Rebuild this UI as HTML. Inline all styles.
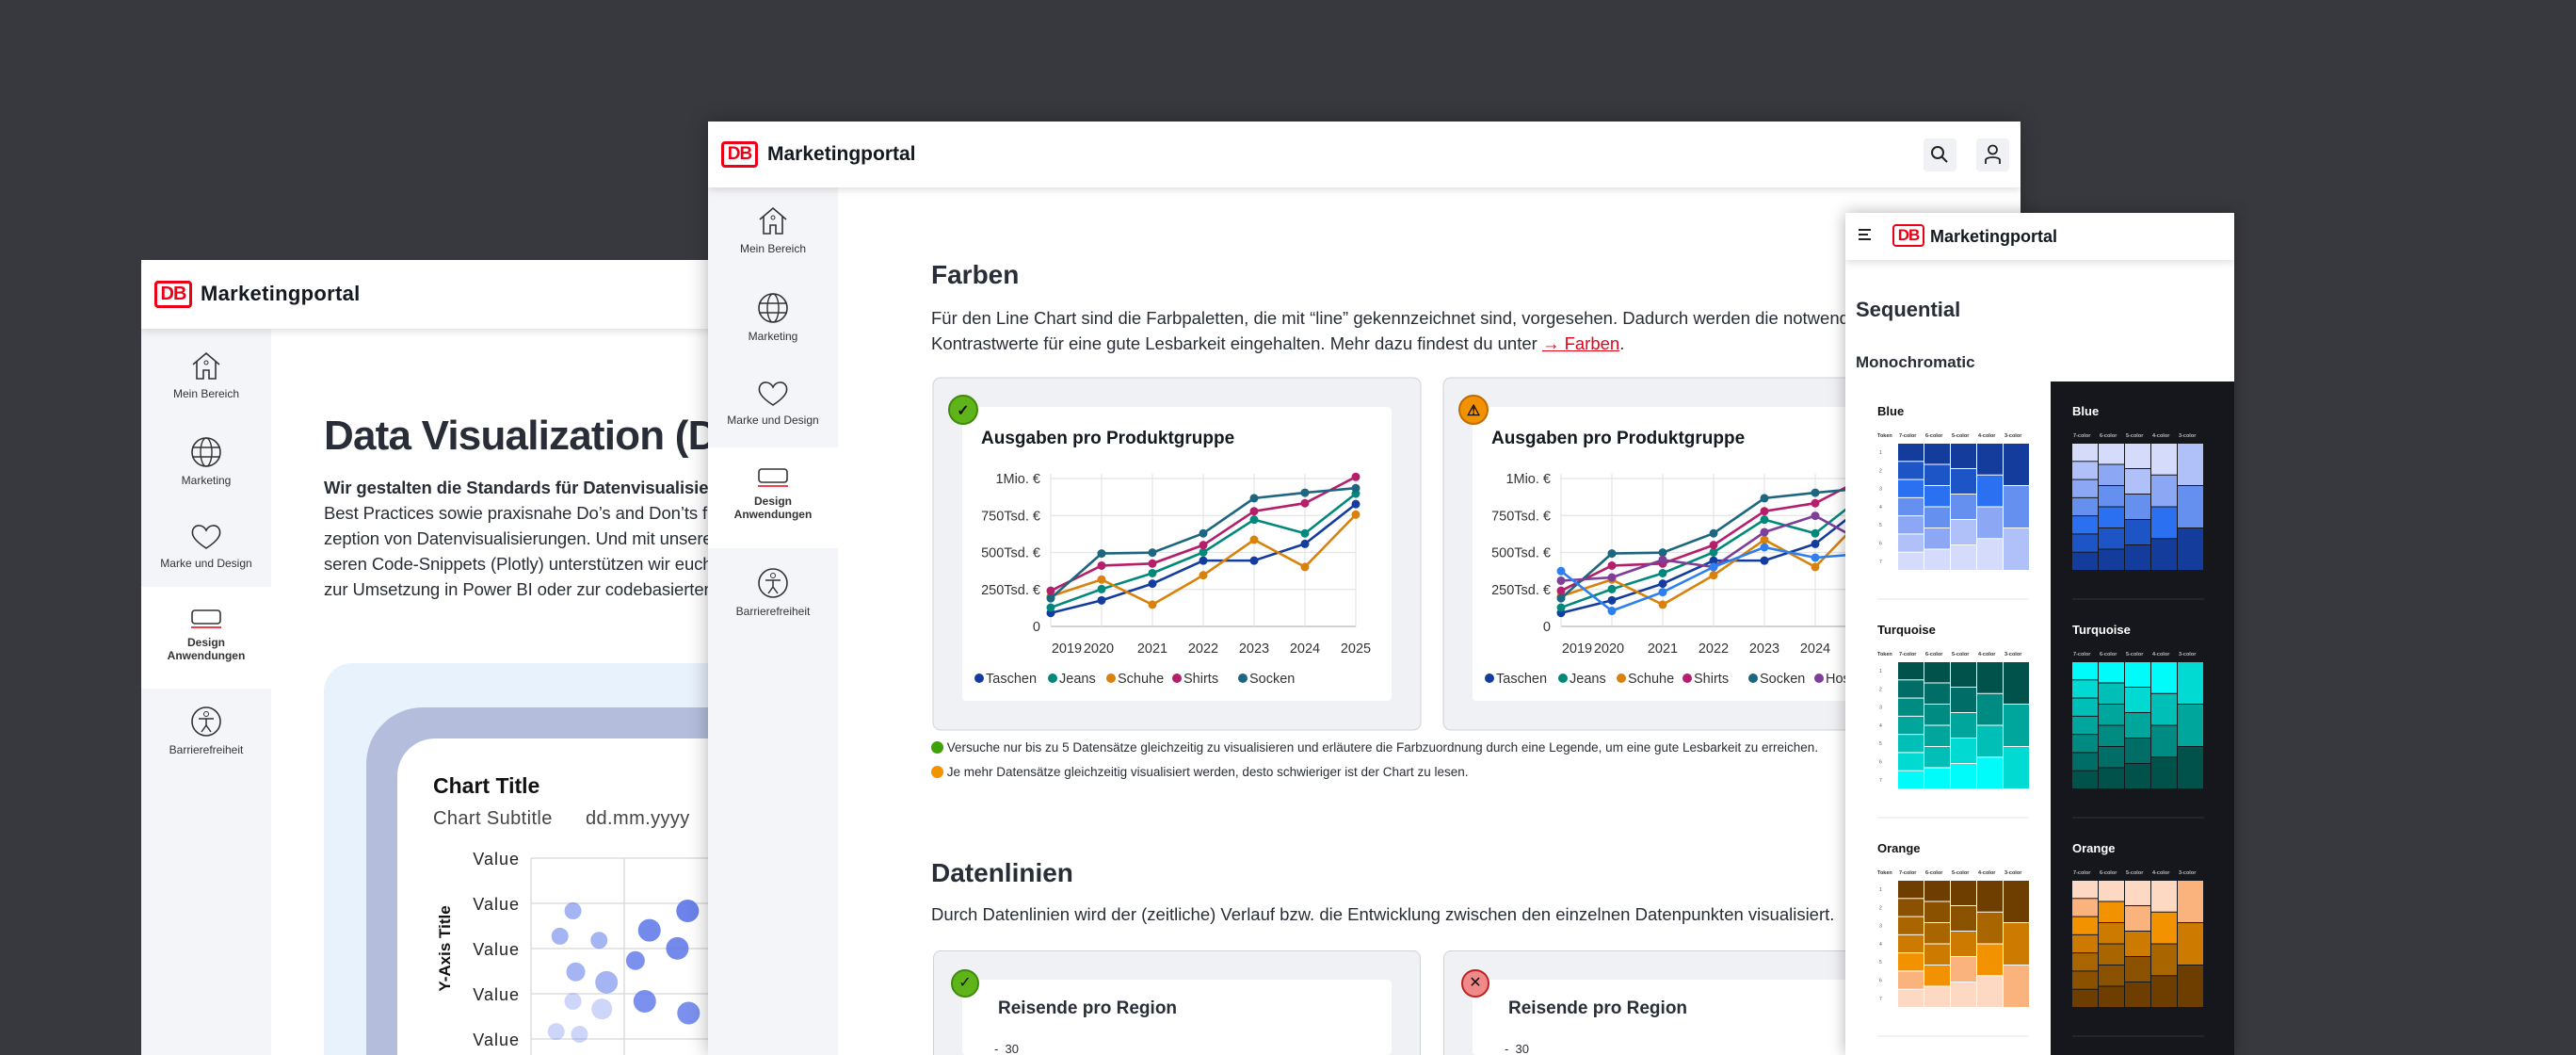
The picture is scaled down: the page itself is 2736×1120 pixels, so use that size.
<!DOCTYPE html>
<html><head><meta charset="utf-8">
<style>
*{box-sizing:border-box;margin:0;padding:0}
body{width:2736px;height:1120px;overflow:hidden;background:#38393e;font-family:"Liberation Sans",sans-serif;color:#282d37;position:relative}
.abs{position:absolute}
.win{position:absolute;background:#fff;overflow:hidden}
.hdr{position:absolute;left:0;right:0;top:0;background:#fff;box-shadow:0 3px 8px rgba(0,0,0,.12);z-index:2}
.logo{position:absolute;border:3px solid #ec0016;border-radius:4px;color:#ec0016;font-weight:bold;text-align:center;letter-spacing:-1px}
.brand{position:absolute;font-weight:bold;color:#131821}
.side{position:absolute;background:#f4f5f8}
.nav{position:absolute;left:0;width:138px;text-align:center;font-size:12px;color:#333}
.nav svg{display:block;margin:0 auto 6px}
.card{position:absolute;background:#f0f1f4;border:1px solid #cfd2d8;border-radius:8px}
.inner{position:absolute;background:#fff;border-radius:4px;overflow:hidden}
</style></head><body>

<!-- LEFT WINDOW -->
<div class="win" style="left:150px;top:276px;width:700px;height:844px;z-index:1">
  <div class="hdr" style="height:73px">
    <div class="logo" style="left:14px;top:22px;width:40px;height:29px;font-size:20px;line-height:23px">DB</div>
    <div class="brand" style="left:63px;top:23px;font-size:22px;letter-spacing:.3px">Marketingportal</div>
  </div>
  <div class="side" style="left:0;top:73px;width:138px;height:771px">
    <div class="nav" style="top:22px"><svg width="36" height="34" viewBox="0 0 36 34"><path d="M4 16 L18 4 L32 16 M8 13 V31 H15 V22 H21 V31 H28 V13" fill="none" stroke="#333" stroke-width="1.6"/><circle cx="18" cy="14" r="2" fill="none" stroke="#333"/></svg>Mein Bereich</div>
    <div class="nav" style="top:114px"><svg width="36" height="34" viewBox="0 0 36 34"><circle cx="18" cy="17" r="15" fill="none" stroke="#333" stroke-width="1.6"/><ellipse cx="18" cy="17" rx="6" ry="15" fill="none" stroke="#333" stroke-width="1.4"/><path d="M3 12H33M3 22H33" stroke="#333" stroke-width="1.4"/></svg>Marketing</div>
    <div class="nav" style="top:206px"><svg width="36" height="30" viewBox="0 0 36 30"><path d="M18 27 C4 18 2 12 4 7 C7 1 15 2 18 8 C21 2 29 1 32 7 C34 12 32 18 18 27Z" fill="none" stroke="#333" stroke-width="1.6"/></svg>Marke und Design</div>
    <div class="nav" style="top:274px;height:108px;background:#fff;padding-top:22px;font-weight:bold"><svg width="36" height="24" viewBox="0 0 36 24"><rect x="3" y="3" width="30" height="14" rx="3" fill="none" stroke="#333" stroke-width="1.6"/><path d="M2 21H34" stroke="#ec0016" stroke-width="1.6"/></svg>Design<br>Anwendungen</div>
    <div class="nav" style="top:400px"><svg width="36" height="34" viewBox="0 0 36 34"><circle cx="18" cy="17" r="15" fill="none" stroke="#333" stroke-width="1.6"/><circle cx="18" cy="9" r="2.5" fill="none" stroke="#333"/><path d="M10 14H26M18 14V21L13 28M18 21L23 28" fill="none" stroke="#333" stroke-width="1.5"/></svg>Barrierefreiheit</div>
  </div>
  <div class="abs" style="left:194px;top:162px;font-size:44px;font-weight:bold;white-space:nowrap;letter-spacing:-0.8px">Data Visualization (DV)</div>
  <div class="abs" style="left:194px;top:228px;font-size:18.5px;line-height:27px;white-space:nowrap;letter-spacing:-0.1px">
    <b>Wir gestalten die Standards für Datenvisualisierungen</b><br>Best Practices sowie praxisnahe Do’s and Don’ts für die Kon-<br>zeption von Datenvisualisierungen. Und mit unseren Templates und un-<br>seren Code-Snippets (Plotly) unterstützen wir euch<br>zur Umsetzung in Power BI oder zur codebasierten Umsetzung.</div>
  <div class="abs" style="left:194px;top:428px;width:520px;height:416px;background:#e8f2fd;border-radius:30px 0 0 0"></div>
  <div class="abs" style="left:239px;top:475px;width:470px;height:369px;background:#b4bedc;border-radius:60px 0 0 0"></div>
  <div class="abs" style="left:272px;top:508px;width:430px;height:336px;background:#fff;border-radius:40px 0 0 0">
    <svg id="scatter" width="430" height="336" style="position:absolute;left:0;top:0"></svg>
  </div>
</div>

<!-- MIDDLE WINDOW -->
<div class="win" style="left:752px;top:129px;width:1394px;height:991px;z-index:2;box-shadow:0 0 20px rgba(0,0,0,.3)">
  <div class="hdr" style="height:70px">
    <div class="logo" style="left:14px;top:21px;width:39px;height:28px;font-size:19px;line-height:22px">DB</div>
    <div class="brand" style="left:63px;top:23px;font-size:21px">Marketingportal</div>
    <div class="abs" style="left:1291px;top:18px;width:35px;height:35px;background:#f0f1f4;border-radius:4px"><svg width="35" height="35"><circle cx="15" cy="15" r="6" fill="none" stroke="#222" stroke-width="2"/><path d="M19.5 19.5L25 25" stroke="#222" stroke-width="2"/></svg></div>
    <div class="abs" style="left:1347px;top:18px;width:35px;height:35px;background:#f0f1f4;border-radius:4px"><svg width="35" height="35"><circle cx="17.5" cy="12" r="4.5" fill="none" stroke="#222" stroke-width="1.8"/><path d="M10 27V23C10 19 25 19 25 23V27" fill="none" stroke="#222" stroke-width="1.8"/></svg></div>
  </div>
  <div class="side" style="left:0;top:70px;width:138px;height:921px">
    <div class="nav" style="top:18px"><svg width="36" height="34" viewBox="0 0 36 34"><path d="M4 16 L18 4 L32 16 M8 13 V31 H15 V22 H21 V31 H28 V13" fill="none" stroke="#333" stroke-width="1.6"/><circle cx="18" cy="14" r="2" fill="none" stroke="#333"/></svg>Mein Bereich</div>
    <div class="nav" style="top:111px"><svg width="36" height="34" viewBox="0 0 36 34"><circle cx="18" cy="17" r="15" fill="none" stroke="#333" stroke-width="1.6"/><ellipse cx="18" cy="17" rx="6" ry="15" fill="none" stroke="#333" stroke-width="1.4"/><path d="M3 12H33M3 22H33" stroke="#333" stroke-width="1.4"/></svg>Marketing</div>
    <div class="nav" style="top:204px"><svg width="36" height="30" viewBox="0 0 36 30"><path d="M18 27 C4 18 2 12 4 7 C7 1 15 2 18 8 C21 2 29 1 32 7 C34 12 32 18 18 27Z" fill="none" stroke="#333" stroke-width="1.6"/></svg>Marke und Design</div>
    <div class="nav" style="top:276px;height:107px;background:#fff;padding-top:20px;font-weight:bold"><svg width="36" height="24" viewBox="0 0 36 24"><rect x="3" y="3" width="30" height="14" rx="3" fill="none" stroke="#333" stroke-width="1.6"/><path d="M2 21H34" stroke="#ec0016" stroke-width="1.6"/></svg>Design<br>Anwendungen</div>
    <div class="nav" style="top:403px"><svg width="36" height="34" viewBox="0 0 36 34"><circle cx="18" cy="17" r="15" fill="none" stroke="#333" stroke-width="1.6"/><circle cx="18" cy="9" r="2.5" fill="none" stroke="#333"/><path d="M10 14H26M18 14V21L13 28M18 21L23 28" fill="none" stroke="#333" stroke-width="1.5"/></svg>Barrierefreiheit</div>
  </div>
  <div class="abs" style="left:237px;top:147px;font-size:28px;font-weight:bold">Farben</div>
  <div class="abs" style="left:237px;top:195px;font-size:18.5px;line-height:27px;white-space:nowrap">Für den Line Chart sind die Farbpaletten, die mit “line” gekennzeichnet sind, vorgesehen. Dadurch werden die notwendigen<br>Kontrastwerte für eine gute Lesbarkeit eingehalten. Mehr dazu findest du unter <span style="color:#ec0016;text-decoration:underline">→ Farben</span>.</div>
  <div class="abs" style="left:237px;top:657px;font-size:13.5px;white-space:nowrap"><span style="display:inline-block;width:13px;height:13px;border-radius:50%;background:#3ca10a;vertical-align:-2px"></span> Versuche nur bis zu 5 Datensätze gleichzeitig zu visualisieren und erläutere die Farbzuordnung durch eine Legende, um eine gute Lesbarkeit zu erreichen.</div>
  <div class="abs" style="left:237px;top:683px;font-size:13.5px;white-space:nowrap"><span style="display:inline-block;width:13px;height:13px;border-radius:50%;background:#f39200;vertical-align:-2px"></span> Je mehr Datensätze gleichzeitig visualisiert werden, desto schwieriger ist der Chart zu lesen.</div>
  <div class="abs" style="left:237px;top:782px;font-size:28px;font-weight:bold">Datenlinien</div>
  <div class="abs" style="left:237px;top:831px;font-size:18.5px;white-space:nowrap">Durch Datenlinien wird der (zeitliche) Verlauf bzw. die Entwicklung zwischen den einzelnen Datenpunkten visualisiert.</div>
  <div class="card" style="left:239px;top:880px;width:518px;height:111px;border-bottom:none;border-radius:8px 8px 0 0"></div>
  <div class="inner" style="left:270px;top:911px;width:456px;height:80px"><div class="abs" style="left:38px;top:20px;font-size:19px;font-weight:bold">Reisende pro Region</div><div class="abs" style="left:34px;top:66px;font-size:13px">-&nbsp;&nbsp;30</div></div>
  <div class="card" style="left:781px;top:880px;width:518px;height:111px;border-bottom:none;border-radius:8px 8px 0 0"></div>
  <div class="inner" style="left:812px;top:911px;width:456px;height:80px"><div class="abs" style="left:38px;top:20px;font-size:19px;font-weight:bold">Reisende pro Region</div><div class="abs" style="left:34px;top:66px;font-size:13px">-&nbsp;&nbsp;30</div></div>
  <div class="abs" style="left:258px;top:900px;width:30px;height:30px;border-radius:50%;background:#5fb41a;border:2px solid #3f8a0a;color:#111;text-align:center;font-size:16px;line-height:26px">✓</div>
  <div class="abs" style="left:800px;top:900px;width:30px;height:30px;border-radius:50%;background:#f08a8a;border:2px solid #c02020;color:#111;text-align:center;font-size:16px;line-height:26px">✕</div>
</div>

<svg id="lines" width="2736" height="1120" style="position:absolute;left:0;top:0;z-index:2;pointer-events:none"></svg>

<!-- RIGHT WINDOW -->
<div class="win" style="left:1960px;top:226px;width:413px;height:894px;z-index:3;box-shadow:0 0 16px rgba(0,0,0,.3)">
  <div class="hdr" style="height:50px">
    <div class="abs" style="left:14px;top:17px;width:13px;height:12px;border-top:2px solid #222;border-bottom:2px solid #222"><div style="margin-top:3px;border-top:2px solid #222;width:10px"></div></div>
    <div class="logo" style="left:50px;top:12px;width:34px;height:24px;font-size:17px;line-height:19px;border-width:2.5px">DB</div>
    <div class="brand" style="left:90px;top:15px;font-size:18px">Marketingportal</div>
  </div>
  <div class="abs" style="left:11px;top:90px;font-size:22px;font-weight:bold">Sequential</div>
  <div class="abs" style="left:11px;top:149px;font-size:17px;font-weight:bold">Monochromatic</div>
  <div class="abs" style="left:218px;top:179px;width:195px;height:715px;background:#16171c"></div>
  <svg id="swatches" width="413" height="894" style="position:absolute;left:0;top:0"></svg>
</div>

<script>
// ===== Line chart data =====
const years = ["2019","2020","2021","2022","2023","2024","2025"];
const yTicks = [0, 250, 500, 750, 1000];
const yTickLabels = ["0","250Tsd. €","500Tsd. €","750Tsd. €","1Mio. €"];
const seriesNames = ["Taschen","Jeans","Schuhe","Shirts","Socken"];
const taschen = [91,176,289,445,445,558,827];
const jeans   = [127,252,360,501,722,629,898];
const schuhe  = [204,317,147,346,586,402,756];
const shirts  = [241,411,425,550,779,833,1011];
const socken  = [190,493,499,629,867,904,935];
const extraNames = ["Hosen","Jacken"];
const hosen   = [309,331,450,402,637,748,560];
const jacken  = [374,105,232,402,535,465,493];
const colors = ["#143b9e","#00897b","#d9820b","#b51e6b","#1d6680"];
const extraColors = ["#7d3f98","#2d7ff0"];

// ===== Scatter data =====
const scX = [0.45,0.31,0.73,1.68,1.27,1.57,1.12,0.48,0.81,0.45,0.76,1.22,1.69,0.27,0.52];
const scY = [3.0,2.44,2.35,3.0,2.57,2.17,1.9,1.65,1.42,1.0,0.83,1.0,0.74,0.33,0.27];
const scR = [9,9,9,12,12,12,10,10,12,9,11,12,12,9,9];
const scOp = [0.55,0.55,0.55,0.9,0.85,0.85,0.8,0.55,0.55,0.3,0.3,0.8,0.8,0.3,0.3];
const scYLabels = ["Value","Value","Value","Value","Value"];

const NS="http://www.w3.org/2000/svg";
function mk(parent,tag,attrs){const e=document.createElementNS(NS,tag);for(const k in attrs)e.setAttribute(k,attrs[k]);parent.appendChild(e);return e;}

const L=document.getElementById('lines');
function lineChart(ox, withExtra, good){
  const g=mk(L,'g',{});
  
  
  const cx=ox+991, cy=401;
  const card=mk(g,'rect',{x:cx,y:cy,width:518,height:374,rx:8,fill:'#f0f1f4',stroke:'#cfd2d8'});
  
  
  mk(g,'rect',{x:cx+31,y:cy+31,width:456,height:312,rx:4,fill:'#fff'});
  const ic=mk(g,'circle',{cx:cx+32,cy:435,r:15,fill:good?'#5fb41a':'#f39200',stroke:good?'#3f8a0a':'#c06a00','stroke-width':2});
  
  
  const it=mk(g,'text',{x:cx+32,y:441,'text-anchor':'middle','font-size':16,'font-weight':'bold',fill:'#111'});it.textContent=good?'✓':'⚠';
  const tt=mk(g,'text',{x:cx+51,y:471,'font-size':19,'font-weight':'bold',fill:'#131821','font-family':'Liberation Sans'});
  tt.textContent='Ausgaben pro Produktgruppe';
  
  
  const x0=ox+1116, x1=ox+1440, yb=665, yt=508;
  const xs=i=>x0+(x1-x0)*i/(years.length-1);
  const ys=v=>yb-(yb-yt)*v/1000;
  yTicks.forEach((t,i)=>{
    mk(g,'line',{x1:x0,x2:x1,y1:ys(t),y2:ys(t),stroke:i==0?'#bbb':'#e4e4e4','stroke-width':1.2});
    const lb=mk(g,'text',{x:x0-11,y:ys(t)+5,'text-anchor':'end','font-size':14.5,fill:'#333'});lb.textContent=yTickLabels[i];
    
    
  });
  years.forEach((y,i)=>{
    mk(g,'line',{x1:xs(i),x2:xs(i),y1:yt-5,y2:yb,stroke:'#e4e4e4','stroke-width':1.2});
    const lb=mk(g,'text',{x:xs(i),y:693,'text-anchor':'middle','font-size':14.5,fill:'#333'});lb.textContent=y;
    if(i==0)lb.setAttribute('x',xs(0)+17);
    if(i==1)lb.setAttribute('x',xs(1)-3);
    
    
  });
  let data=[taschen,jeans,schuhe,shirts,socken], cols=colors.slice(), names=seriesNames.slice();
  if(withExtra){data=data.concat([hosen,jacken]);cols=cols.concat(extraColors);names=names.concat(extraNames);}
  data.forEach((s,k)=>{
    const p=mk(g,'polyline',{points:s.map((v,i)=>xs(i)+','+ys(v)).join(' '),fill:'none',stroke:cols[k],'stroke-width':2.6});
    
    
    s.forEach((v,i)=>{const c=mk(g,'circle',{cx:xs(i),cy:ys(v),r:4.5,fill:cols[k]});
      
      });
  });
  let lx=ox+1040;
  names.forEach((n,k)=>{
    const d=mk(g,'circle',{cx:lx,cy:720,r:5,fill:cols[k]});
    
    
    const t=mk(g,'text',{x:lx+7,y:725,'font-size':14.5,fill:'#333'});t.textContent=n;
    lx+= n.length*8+22;
  });
}
lineChart(0,false,true);
lineChart(542,true,false);

// scatter
const S=document.getElementById('scatter');
(function(){
  const x0=142,yb=327,yt=127,step=48;
  const xs=v=>x0+v*99, ys=v=>yb-v*step;
  mk(S,'line',{x1:x0,x2:x0,y1:yt,y2:336,stroke:'#ddd','stroke-width':1.5});
  mk(S,'line',{x1:x0+99,x2:x0+99,y1:yt,y2:336,stroke:'#ddd','stroke-width':1.5});
  mk(S,'line',{x1:x0+198,x2:x0+198,y1:yt,y2:336,stroke:'#ddd','stroke-width':1.5});
  const tl=mk(S,'text',{x:38,y:58,'font-size':23,'font-weight':'bold',fill:'#111'});tl.textContent='Chart Title';
  
  const st=mk(S,'text',{x:38,y:91,'font-size':20,fill:'#444','letter-spacing':'0.4'});st.textContent='Chart Subtitle';
  
  const sd=mk(S,'text',{x:200,y:91,'font-size':20,fill:'#444','letter-spacing':'0.4'});sd.textContent='dd.mm.yyyy';
  
  scYLabels.forEach((l,i)=>{
    const yy=yt+i*step;
    mk(S,'line',{x1:x0,x2:430,y1:yy,y2:yy,stroke:'#ddd','stroke-width':1.5});
    const t=mk(S,'text',{x:x0-12,y:yy+7,'text-anchor':'end','font-size':18,fill:'#222','letter-spacing':'1'});t.textContent=l;
    
  });
  const ya=mk(S,'text',{x:0,y:0,'font-size':17,'font-weight':'bold',fill:'#111','text-anchor':'middle',transform:'translate(56,223) rotate(-90)'});ya.textContent='Y-Axis Title';
  
  scX.forEach((x,i)=>{const c=mk(S,'circle',{cx:xs(x),cy:ys(scY[i]),r:scR[i],fill:'#5b76e8','fill-opacity':scOp[i]});
    });
})();

// swatches
const palBlue=["#133c9c","#1d55c7","#2a70f0","#6690f0","#8ca8f5","#b0c0f8","#d4dbfb"];
const palTurq=["#00524b","#006d66","#008b82","#00a69c","#00bfb6","#00dad2","#00fbfb"];
const palOrange=["#6e3d00","#8a5100","#a96600","#cd7b00","#f39200","#fbb37d","#fdd9c4"];
const colCounts=[7,6,5,4,3];
const colLabels=["7-color","6-color","5-color","4-color","3-color"];
const sectionNames=["Blue","Turquoise","Orange"];
const W=document.getElementById('swatches');
function pick(p,n){const idx={7:[0,1,2,3,4,5,6],6:[0,1,2,3,4,6],5:[0,1,3,5,6],4:[0,2,4,6],3:[0,3,5]}[n];return idx.map(i=>p[i]);}
[palBlue,palTurq,palOrange].forEach((p,si)=>{
  const top=245+si*232;
  [false,true].forEach(dark=>{
    const t=mk(W,'text',{x:dark?241:34,y:top-30,'font-size':13,'font-weight':'bold',fill:dark?'#fff':'#111'});t.textContent=sectionNames[si];
    
    const ox=dark?241:56;
    colCounts.forEach((n,ci)=>{
      const lab=mk(W,'text',{x:ox+ci*28+1,y:top-7,'font-size':5.5,fill:dark?'#bbb':'#333','font-weight':'bold'});
      lab.textContent=colLabels[ci];
      let cs=pick(p,n); if(dark) cs=cs.slice().reverse();
      const h=135/n;
      cs.forEach((c,ri)=>{const r=mk(W,'rect',{x:ox+ci*28,y:top+ri*h,width:27,height:h-1,fill:c});
        
        });
    });
    if(!dark){for(let k=0;k<7;k++){const nt=mk(W,'text',{x:36,y:top+11+k*19.3,'font-size':5,fill:'#555'});nt.textContent=k+1;}
      const tk=mk(W,'text',{x:34,y:top-7,'font-size':5.5,fill:'#333','font-weight':'bold'});tk.textContent='Token';}
    mk(W,'line',{x1:dark?241:34,x2:dark?381:195,y1:top+165,y2:top+165,stroke:dark?'#333':'#e6e6e6','stroke-width':1});
  });
});
</script>
</body></html>
